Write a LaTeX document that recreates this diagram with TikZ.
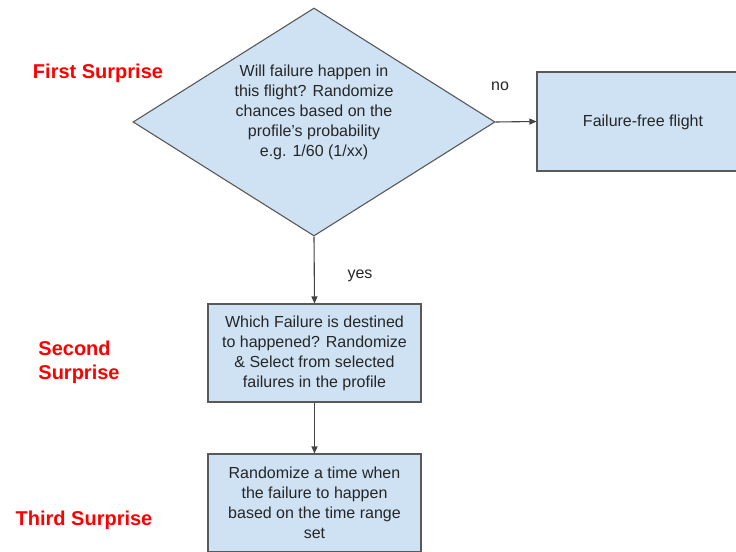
\documentclass[tikz,border=0pt]{standalone}
\usepackage{fontspec}
\setmainfont{Liberation Sans}
\usetikzlibrary{shapes.geometric,arrows.meta}
\definecolor{boxfill}{HTML}{CFE2F3}
\definecolor{boxline}{HTML}{595959}
\definecolor{arrowc}{HTML}{434343}
\definecolor{surprise}{HTML}{FF0000}
\tikzset{
  procbox/.style={draw=boxline, fill=boxfill, line width=1.1bp, minimum width=213bp, minimum height=98bp, inner sep=0pt},
  bodytext/.style={font=\fontsize{16bp}{20bp}\selectfont, text=black!85, align=center, inner sep=0pt},
  redlabel/.style={font=\fontsize{20bp}{24bp}\selectfont\bfseries, text=surprise, inner sep=0pt},
  flow/.style={draw=arrowc, line width=1.1bp, -{Triangle[length=7bp,width=6bp]}},
  edgelabel/.style={font=\fontsize{16bp}{20bp}\selectfont, text=black!85, inner sep=0pt}
}
\begin{document}
\begin{tikzpicture}[x=1bp,y=-1bp]
\useasboundingbox (0,0) rectangle (736,552);
\clip (0,0) rectangle (736,552);
\fill[white] (0,0) rectangle (736,552);
\node[diamond, draw=boxline, fill=boxfill, line width=1.1bp, minimum width=362bp, minimum height=228bp, inner sep=0pt] (dec) at (314,122) {};
\node[bodytext] (dectext) at (314,112) {Will failure happen in\\this flight? Randomize\\chances based on the\\profile's probability\\e.g. 1/60 (1/xx)};
\node[procbox, minimum width=212bp, minimum height=99bp] (free) at (643,121.5) {};
\node[bodytext] (freetext) at (643,122) {Failure-free flight};
\node[procbox] (which) at (314.5,353) {};
\node[bodytext] (whichtext) at (314.5,353) {Which Failure is destined\\to happened? Randomize\\\& Select from selected\\failures in the profile};
\node[procbox] (time) at (314.5,503) {};
\node[bodytext] (timetext) at (314.5,503) {Randomize a time when\\the failure to happen\\based on the time range\\set};
\draw[flow] (dec.east) -- (free.west);
\draw[flow] (dec.south) -- (which.north);
\draw[flow] (which.south) -- (time.north);
\node[edgelabel] (no) at (500,86) {no};
\node[edgelabel] (yes) at (360,276) {yes};
\node[redlabel] (first) at (98,73) {First Surprise};
\node[redlabel, align=left] (second) at (79,362) {Second\\Surprise};
\node[redlabel] (third) at (84,520) {Third Surprise};
\end{tikzpicture}
\end{document}
